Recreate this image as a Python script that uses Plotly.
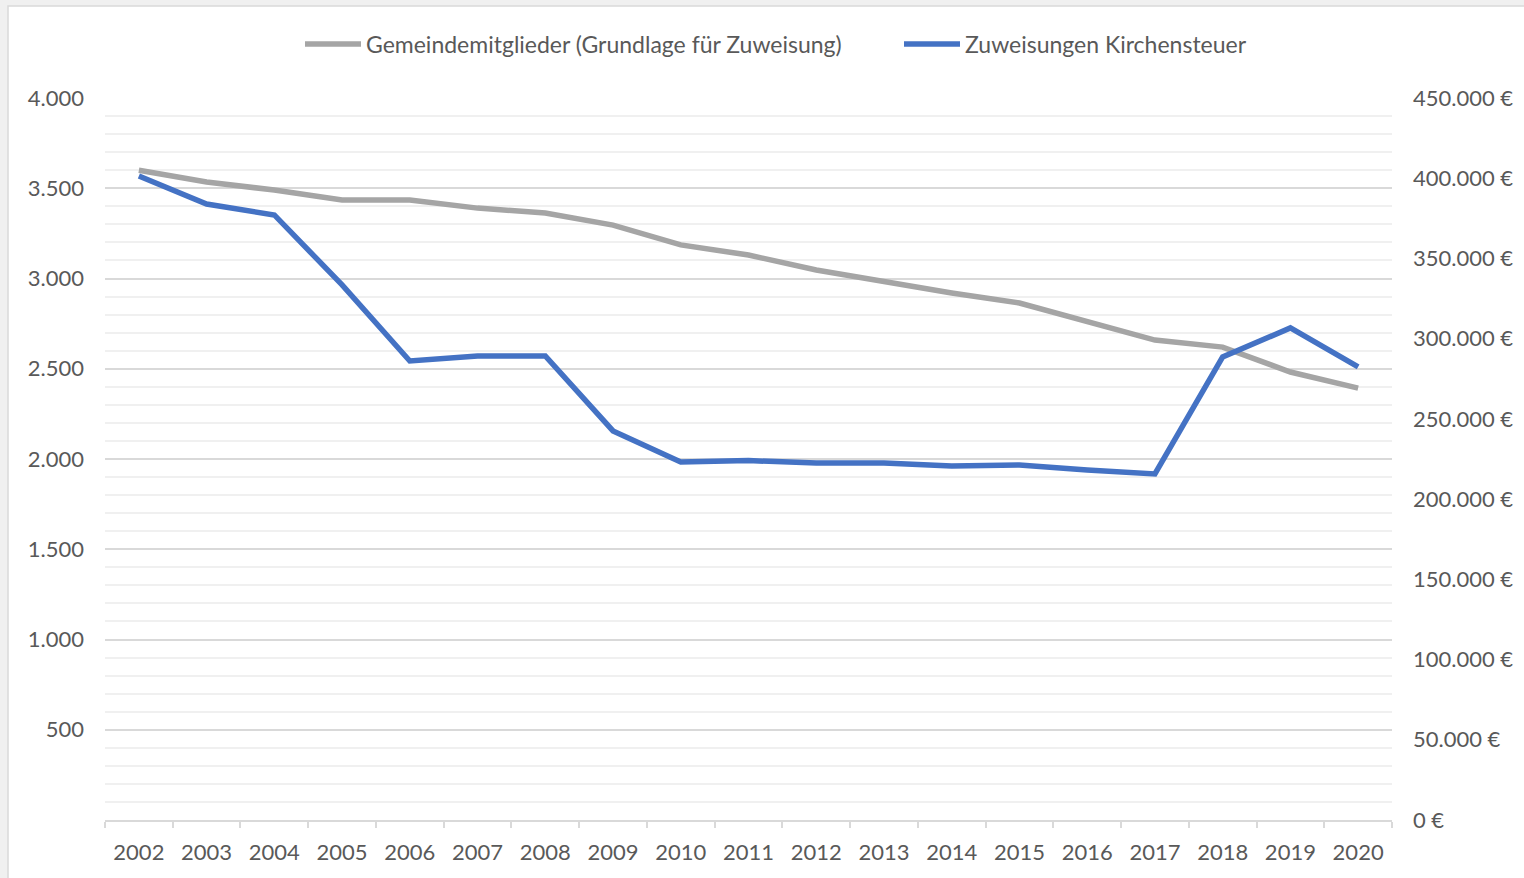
import plotly.graph_objects as go

years = [str(y) for y in range(2002, 2021)]
mitglieder = [3600, 3535, 3490, 3435, 3435, 3390, 3363, 3296, 3186, 3130,
              3047, 2981, 2920, 2864, 2765, 2659, 2620, 2482, 2393]
zuweisungen = [401400, 383900, 377100, 333500, 286100, 289200, 289200, 242500,
               223100, 224000, 222500, 222500, 220600, 221300, 218100, 215700,
               288600, 306700, 282400]

FONT = "Lato"
TXT = "#595959"

fig = go.Figure()
fig.add_trace(go.Scatter(x=years, y=mitglieder, mode="lines",
                         name="Gemeindemitglieder (Grundlage für Zuweisung)",
                         line=dict(color="#a5a5a5", width=5.5)))
fig.add_trace(go.Scatter(x=years, y=zuweisungen, mode="lines", yaxis="y2",
                         name="Zuweisungen Kirchensteuer",
                         line=dict(color="#4472c4", width=5.5)))

L, R, T, B = 105, 132, 98, 58
W, H = 1524, 878
pw, ph = W - L - R, H - T - B

def px(x):
    return (x - L) / pw

def py(y):
    return (H - B - y) / ph

fig.update_layout(
    width=W, height=H,
    margin=dict(l=L, r=R, t=T, b=B, autoexpand=False),
    paper_bgcolor="#f0f0f0", plot_bgcolor="white",
    font=dict(family=FONT, size=22, color=TXT),
    separators=",.",
    showlegend=True,
    legend=dict(orientation="h", x=px(300), xanchor="left", y=py(44), yanchor="middle",
                font=dict(size=23, color=TXT), itemwidth=56, bgcolor="rgba(0,0,0,0)",
                entrywidth=528, entrywidthmode="pixels"),
    xaxis=dict(type="category", range=[-0.5, 18.5], showgrid=False,
               showline=True, linecolor="#d9d9d9", linewidth=1.5,
               ticks="outside", ticklen=6, tickcolor="#d9d9d9", tickwidth=1.5,
               tickson="boundaries", ticklabelstandoff=12,
               tickfont=dict(size=22, color=TXT)),
    yaxis=dict(range=[0, 4000], tickformat=",d", showgrid=True,
               gridcolor="#d9d9d9", gridwidth=1.5, zeroline=False, showline=False,
               ticklabelstandoff=20, tickfont=dict(size=22, color=TXT),
               tickvals=[500, 1000, 1500, 2000, 2500, 3000, 3500, 4000],
               minor=dict(dtick=100, showgrid=True, gridcolor="#f0f0f0", gridwidth=1.5)),
    yaxis2=dict(range=[0, 450000], dtick=50000, tickformat=",d", overlaying="y",
                side="right", showgrid=False, zeroline=False, showline=False,
                ticksuffix="\u202f€", ticklabelstandoff=20,
                tickfont=dict(size=22, color=TXT)),
    shapes=[dict(type="rect", xref="paper", yref="paper", layer="below",
                 x0=px(8), x1=px(W + 5), y0=py(H + 5), y1=py(6),
                 fillcolor="white", line=dict(color="#d9d9d9", width=1.5))],
)

fig.write_html("out.html", config={"displayModeBar": False},
               post_script="document.body.style.margin='0';document.body.style.padding='0';")
